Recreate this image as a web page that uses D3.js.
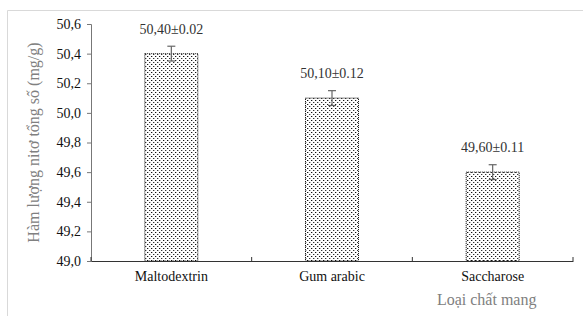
<!DOCTYPE html>
<html>
<head>
<meta charset="utf-8">
<script src="https://cdn.jsdelivr.net/npm/d3@7"></script>
<style>
  body { margin: 0; background: #fff; }
  svg { display: block; }
  svg text { font-family: "Liberation Serif", "Times New Roman", serif; }
</style>
</head>
<body>
<svg class="bar-chart"></svg>
<script>
'use strict';

// Data
var categories = ['Maltodextrin', 'Gum arabic', 'Saccharose'];
var values = [50.40, 50.10, 49.60];
var errors = [0.05, 0.05, 0.05];
var valueLabels = ['50,40±0.02', '50,10±0.12', '49,60±0.11'];
var yTicks = [49.0, 49.2, 49.4, 49.6, 49.8, 50.0, 50.2, 50.4, 50.6];

var width = 583, height = 316;
var margin = { top: 24, right: 10, bottom: 55, left: 91 };
var graphWidth = width - margin.left - margin.right;
var graphHeight = height - margin.top - margin.bottom;

var svg = d3.select('svg.bar-chart').attr('width', width).attr('height', height);

// Dotted fill pattern
var defs = svg.append('defs');
var pat = defs.append('pattern').attr('id', 'dots').attr('patternUnits', 'userSpaceOnUse')
  .attr('width', 4).attr('height', 4);
pat.append('rect').attr('width', 4).attr('height', 4).attr('fill', '#fff');
pat.append('rect').attr('x', 0).attr('y', 0).attr('width', 1).attr('height', 1).attr('fill', '#111');
pat.append('rect').attr('x', 2).attr('y', 2).attr('width', 1).attr('height', 1).attr('fill', '#333');
pat.append('rect').attr('x', 1).attr('y', 0).attr('width', 1).attr('height', 1).attr('fill', '#bbb');
pat.append('rect').attr('x', 3).attr('y', 2).attr('width', 1).attr('height', 1).attr('fill', '#bbb');

//Outer frame
svg.append('path').attr('d', 'M7.5,' + height + 'V10.5H' + width)
  .attr('fill', 'none').attr('stroke', '#d9d9d9').attr('stroke-width', 1);

var graph = svg.append('g').attr('transform', 'translate(' + margin.left + ',' + margin.top + ')');

//Scales
var xScale = d3.scaleBand().domain(categories).range([0, graphWidth]).padding(0);
var yScale = d3.scaleLinear().domain([49.0, 50.6]).range([graphHeight, 0]);
var barWidth = xScale.bandwidth() * 0.33;

//Y axis
var yAxis = graph.append('g').classed('y-axis', true)
  .call(d3.axisLeft(yScale).tickValues(yTicks).tickSize(4).tickPadding(6)
    .tickFormat(function (d) { return d3.format('.1f')(d).replace('.', ','); }));
yAxis.attr('font-family', null);
yAxis.select('.domain').attr('stroke', '#777');
yAxis.selectAll('.tick line').attr('stroke', '#777');
yAxis.selectAll('.tick text').attr('fill', '#111').style('font-size', '14px');

//Bars
var bars = graph.selectAll('.bar').data(values).enter().append('g').classed('bar', true);

bars.append('rect')
  .attr('x', function (d, i) { return xScale(categories[i]) + xScale.bandwidth() / 2 - barWidth / 2; })
  .attr('y', function (d) { return yScale(d); })
  .attr('width', barWidth)
  .attr('height', function (d) { return graphHeight - yScale(d); })
  .attr('fill', 'url(#dots)')
  .attr('stroke', '#111').attr('stroke-width', 1).attr('stroke-dasharray', '1,1');

//Error bars
var cx = function (i) { return xScale(categories[i]) + xScale.bandwidth() / 2; };
bars.append('line')
  .attr('x1', function (d, i) { return cx(i); }).attr('x2', function (d, i) { return cx(i); })
  .attr('y1', function (d, i) { return yScale(d + errors[i]); })
  .attr('y2', function (d, i) { return yScale(d - errors[i]); })
  .attr('stroke', '#666').attr('stroke-width', 1.2);
[1, -1].forEach(function (s) {
  bars.append('line')
    .attr('x1', function (d, i) { return cx(i) - 4; }).attr('x2', function (d, i) { return cx(i) + 4; })
    .attr('y1', function (d, i) { return yScale(d + s * errors[i]); })
    .attr('y2', function (d, i) { return yScale(d + s * errors[i]); })
    .attr('stroke', '#666').attr('stroke-width', 1.2);
});

//Value labels
bars.append('text')
  .attr('x', function (d, i) { return cx(i); })
  .attr('y', function (d) { return yScale(d) - 20; })
  .style('text-anchor', 'middle').style('font-size', '14px').attr('fill', '#333')
  .text(function (d, i) { return valueLabels[i]; });

//X axis
var xAxis = graph.append('g').classed('x-axis', true).attr('transform', 'translate(0,' + graphHeight + ')')
  .call(d3.axisBottom(xScale).tickSize(0).tickPadding(10));
xAxis.attr('font-family', null);
xAxis.select('.domain').attr('stroke', '#333');
xAxis.selectAll('.tick text').attr('fill', '#111').style('font-size', '14px');

//X axis boundary ticks (pointing up)
var bounds = categories.map(function (c) { return xScale(c); }).concat([graphWidth]);
graph.selectAll('.x-bound').data(bounds).enter().append('line').classed('x-bound', true)
  .attr('x1', function (d) { return d; }).attr('x2', function (d) { return d; })
  .attr('y1', graphHeight - 4).attr('y2', graphHeight)
  .attr('stroke', '#333');

//Axis labels
graph.append('text').attr('transform', 'rotate(-90)')
  .attr('x', -graphHeight / 2).attr('y', -margin.left + 39)
  .style('text-anchor', 'middle').style('font-size', '16px').attr('fill', '#808080')
  .text('Hàm lượng nitơ tổng số (mg/g)');

graph.append('text')
  .attr('x', cx(2) - 6).attr('y', graphHeight + 44)
  .style('text-anchor', 'middle').style('font-size', '16px').attr('fill', '#808080')
  .text('Loại chất mang');
</script>
</body>
</html>
